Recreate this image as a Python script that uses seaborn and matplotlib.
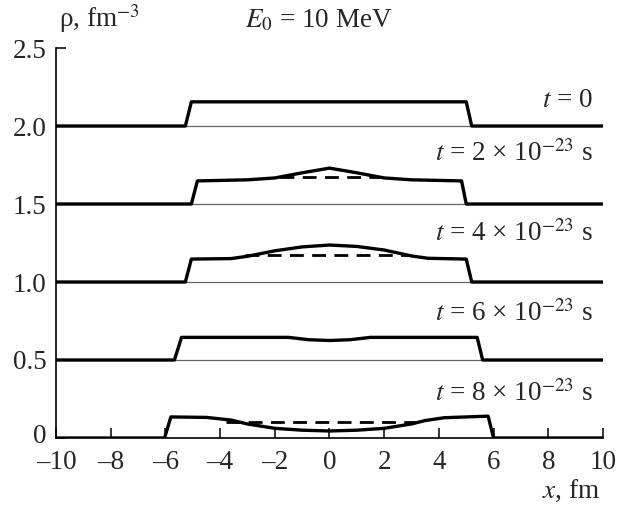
"""
Perfis de densidade rho(x) para varios instantes t (E0 = 10 MeV)
"""

import matplotlib
matplotlib.use('Agg')
import matplotlib.pyplot as plt
import matplotlib.transforms as mtransforms
import seaborn as sns
import pandas as pd

# Dados (x em fm, rho em fm^-3, ja com o deslocamento vertical)
x_t0 = [-10, -5.27, -5.05, 5.0, 5.2, 10]
rho_t0 = [2.0, 2.0, 2.155, 2.155, 2.0, 2.0]

x_t2 = [-10, -5.05, -4.83, -3, -2, -1, 0, 1, 2, 3, 4.83, 5.0, 10]
rho_t2 = [1.5, 1.5, 1.648, 1.655, 1.667, 1.70, 1.73, 1.70, 1.667, 1.655, 1.648, 1.5, 1.5]
x_t2_tracejado = [-1.8, 1.8]
rho_t2_tracejado = [1.673, 1.673]

x_t4 = [-10, -5.27, -5.05, -3.6, -3, -2, -1, 0, 1, 2, 3, 3.6, 5.0, 5.2, 10]
rho_t4 = [1.0, 1.0, 1.147, 1.15, 1.165, 1.20, 1.225, 1.237, 1.228, 1.205, 1.167, 1.152, 1.147, 1.0, 1.0]
x_t4_tracejado = [-3.1, 2.9]
rho_t4_tracejado = [1.172, 1.172]

x_t6 = [-10, -5.67, -5.41, -1.5, -0.75, 0, 0.75, 1.5, 5.4, 5.6, 10]
rho_t6 = [0.5, 0.5, 0.645, 0.645, 0.63, 0.625, 0.63, 0.645, 0.645, 0.5, 0.5]

x_t8 = [-10, -6.03, -5.8, -4.5, -3.6, -3, -2, -1, 0, 1, 2, 3, 3.5, 4.2, 5.8, 6.0, 10]
rho_t8 = [0, 0, 0.135, 0.132, 0.115, 0.09, 0.062, 0.05, 0.045, 0.05, 0.062, 0.09, 0.112, 0.13, 0.14, 0, 0]
x_t8_tracejado = [-3.8, 3.5]
rho_t8_tracejado = [0.105, 0.105]

linhas_base = [0.5, 1.0, 1.5, 2.0]

rotulos_t = [r'$t$ = 0',
             r'$t$ = 2 × 10$^{-23}$ s',
             r'$t$ = 4 × 10$^{-23}$ s',
             r'$t$ = 6 × 10$^{-23}$ s',
             r'$t$ = 8 × 10$^{-23}$ s']
rotulos_y = [2.125, 1.778, 1.265, 0.752, 0.239]

ticks_x = [-10, -8, -6, -4, -2, 0, 2, 4, 6, 8, 10]
ticks_y = [0, 0.5, 1.0, 1.5, 2.0, 2.5]
rotulos_ticks_y = ['0', '0.5', '1.0', '1.5', '2.0', '2.5']

tamanho = 19.5

sns.set_theme(style='ticks')
plt.rcParams['font.family'] = ['Liberation Serif', 'DejaVu Serif']
plt.rcParams['mathtext.fontset'] = 'stix'
plt.rcParams['axes.unicode_minus'] = True

fig = plt.figure(figsize=(6.27, 5.08), dpi=100)
ax = fig.add_axes([0.0893, 0.1378, 0.8724, 0.7677])

# linhas finas de referencia
for y0 in linhas_base:
    ax.axhline(y0, color='#666666', linewidth=0.9, zorder=1)

# curvas solidas
solidas = [(x_t0, rho_t0), (x_t2, rho_t2), (x_t4, rho_t4), (x_t6, rho_t6), (x_t8, rho_t8)]
for xs, ys in solidas:
    df = pd.DataFrame({'x': xs, 'rho': ys})
    sns.lineplot(data=df, x='x', y='rho', ax=ax, color='black', linewidth=2.4,
                 sort=False, estimator=None, zorder=3)

# curvas tracejadas
tracejadas = [(x_t2_tracejado, rho_t2_tracejado), (x_t4_tracejado, rho_t4_tracejado),
              (x_t8_tracejado, rho_t8_tracejado)]
for xs, ys in tracejadas:
    df = pd.DataFrame({'x': xs, 'rho': ys})
    sns.lineplot(data=df, x='x', y='rho', ax=ax, color='black', linewidth=2.0,
                 sort=False, estimator=None, zorder=2, dashes=False)
    ax.lines[-1].set_dashes([5, 3])

for texto, y in zip(rotulos_t, rotulos_y):
    ax.text(9.62, y, texto, ha='right', va='baseline', fontsize=tamanho)

ax.set_xlim(-10, 10)
ax.set_ylim(0, 2.5)
ax.set_xticks(ticks_x)
ax.set_xticklabels([f'{v}'.replace('-', '\u2013') for v in ticks_x])
ax.set_yticks(ticks_y)
ax.set_yticklabels(rotulos_ticks_y)
ax.set_xlabel('')
ax.set_ylabel('')
ax.tick_params(direction='in', length=7, width=1.1, labelsize=tamanho, color='black')
ax.tick_params(axis='x', pad=9)
ax.tick_params(axis='y', pad=7)
for lado in ['top', 'right']:
    ax.spines[lado].set_visible(False)
for lado in ['left', 'bottom']:
    ax.spines[lado].set_linewidth(1.2)
    ax.spines[lado].set_color('black')

# o "0" do eixo y fica um pouco acima para nao encostar no "-10"
rotulo_zero = ax.get_yticklabels()[0]
rotulo_zero.set_transform(rotulo_zero.get_transform() +
                          mtransforms.ScaledTranslation(0, 3 / 72, fig.dpi_scale_trans))

fig.text(0.094, 0.947, r'ρ, fm$^{-3}$', fontsize=tamanho, ha='left', va='baseline')
fig.text(0.391, 0.947, r'$E_0$ = 10 MeV', fontsize=tamanho, ha='left', va='baseline')
fig.text(0.957, 0.02, r'$x$, fm', fontsize=tamanho, ha='right', va='baseline')

fig.savefig('out.png', dpi=100)
plt.close(fig)
